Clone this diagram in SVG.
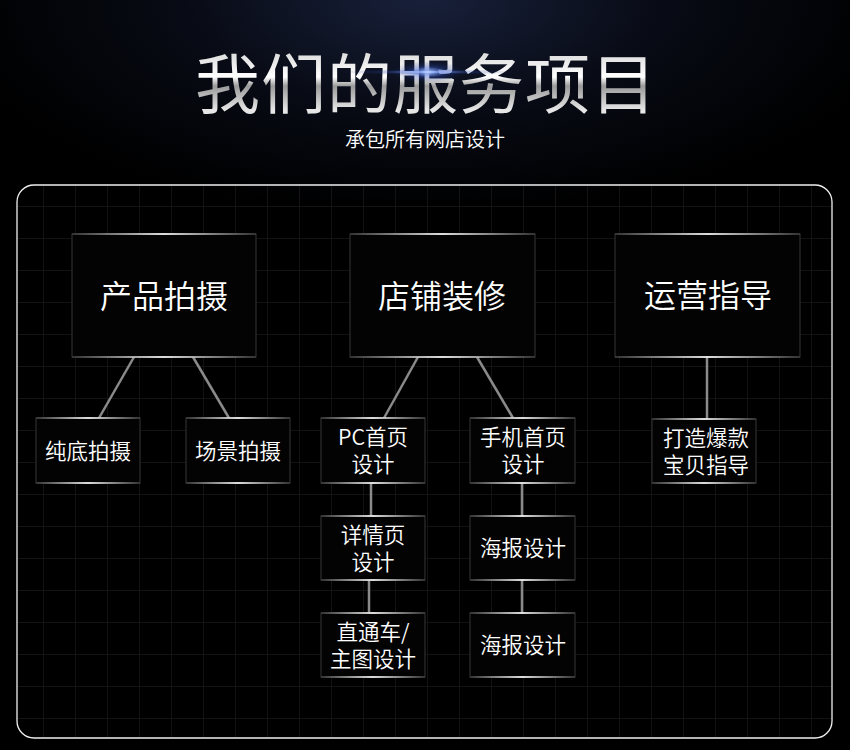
<svg xmlns="http://www.w3.org/2000/svg" width="850" height="750" viewBox="0 0 850 750">
<defs>
<radialGradient id="bgGlow" cx="425" cy="0" r="480" gradientUnits="userSpaceOnUse" gradientTransform="translate(0,0) scale(1,0.45)">
<stop offset="0" stop-color="#18203a"/>
<stop offset="0.5" stop-color="#080b15"/>
<stop offset="1" stop-color="#000000"/>
</radialGradient>
<radialGradient id="flare" cx="0.5" cy="0.5" r="0.5">
<stop offset="0" stop-color="#ffffff" stop-opacity="1"/>
<stop offset="0.15" stop-color="#a0bcff" stop-opacity="0.9"/>
<stop offset="0.5" stop-color="#3050c0" stop-opacity="0.35"/>
<stop offset="1" stop-color="#102060" stop-opacity="0"/>
</radialGradient>
<linearGradient id="silver" x1="0" y1="50" x2="0" y2="110" gradientUnits="userSpaceOnUse">
<stop offset="0" stop-color="#d8d8d8"/>
<stop offset="0.45" stop-color="#ffffff"/>
<stop offset="0.6" stop-color="#9a9a9a"/>
<stop offset="1" stop-color="#e6e6e6"/>
</linearGradient>
<linearGradient id="edge" x1="0" y1="0" x2="1" y2="0">
<stop offset="0" stop-color="#ffffff" stop-opacity="0.1"/>
<stop offset="0.5" stop-color="#ffffff" stop-opacity="0.85"/>
<stop offset="1" stop-color="#ffffff" stop-opacity="0.1"/>
</linearGradient>
<pattern id="grid" x="11" y="14" width="32" height="32" patternUnits="userSpaceOnUse">
<path d="M0 0H32M0 0V32" fill="none" stroke="#131313" stroke-width="2"/>
</pattern>
</defs>
<style>
.box{fill:#030303;stroke:#2e2e2e;stroke-width:1.2}
.edge{fill:url(#edge)}
.big{font-family:"Noto Sans CJK SC","Noto Sans",sans-serif;font-size:32px;font-weight:350;fill:#ffffff;text-anchor:middle}
.small{font-family:"Noto Sans CJK SC","Noto Sans",sans-serif;font-size:21.5px;font-weight:350;fill:#ffffff;text-anchor:middle}
.conn{stroke:#8a8a8a;stroke-width:2.5;fill:none}
</style>
<rect width="850" height="750" fill="#000"/>
<rect width="850" height="200" fill="url(#bgGlow)"/>
<g id="title">
<text x="426" y="108" font-family="Noto Sans CJK SC,sans-serif" font-size="65" font-weight="400" fill="url(#silver)" text-anchor="middle" letter-spacing="1">我们的服务项目</text>
<ellipse cx="428" cy="72" rx="36" ry="11" fill="url(#flare)"/>
<ellipse cx="428" cy="72" rx="90" ry="3" fill="url(#flare)" opacity="0.7"/>
<text x="425" y="147" font-family="Noto Sans CJK SC,sans-serif" font-size="20" font-weight="350" fill="#ffffff" text-anchor="middle">承包所有网店设计</text>
</g>
<g id="panel">
<rect x="17" y="185" width="815" height="553" rx="17" fill="url(#grid)" stroke="#f0f0f0" stroke-width="1.3"/>
</g>
<g id="connectors">
<line class="conn" x1="134" y1="357" x2="99" y2="418"/>
<line class="conn" x1="193" y1="357" x2="229" y2="418"/>
<line class="conn" x1="418" y1="357" x2="384" y2="418"/>
<line class="conn" x1="477" y1="357" x2="513" y2="418"/>
<line class="conn" x1="371" y1="483" x2="371" y2="516"/>
<line class="conn" x1="369" y1="580" x2="369" y2="613"/>
<line class="conn" x1="522" y1="483" x2="522" y2="516"/>
<line class="conn" x1="522" y1="580" x2="522" y2="613"/>
<line class="conn" x1="707" y1="357" x2="707" y2="419"/>
</g>
<g id="n-product">
<rect class="box" x="72" y="234" width="184" height="123"/>
<rect class="edge" x="72" y="233" width="184" height="2"/>
<rect class="edge" x="72" y="356" width="184" height="2"/>
<text class="big" x="164" y="308">产品拍摄</text>
</g>
<g id="n-shop">
<rect class="box" x="350" y="234" width="185" height="123"/>
<rect class="edge" x="350" y="233" width="185" height="2"/>
<rect class="edge" x="350" y="356" width="185" height="2"/>
<text class="big" x="442" y="308">店铺装修</text>
</g>
<g id="n-ops">
<rect class="box" x="615" y="234" width="185" height="123"/>
<rect class="edge" x="615" y="233" width="185" height="2"/>
<rect class="edge" x="615" y="356" width="185" height="2"/>
<text class="big" x="708" y="307">运营指导</text>
</g>
<g id="n-plain">
<rect class="box" x="36" y="418" width="104" height="65"/>
<rect class="edge" x="36" y="417" width="104" height="2"/>
<rect class="edge" x="36" y="482" width="104" height="2"/>
<text class="small" x="88" y="459">纯底拍摄</text>
</g>
<g id="n-scene">
<rect class="box" x="186" y="418" width="104" height="65"/>
<rect class="edge" x="186" y="417" width="104" height="2"/>
<rect class="edge" x="186" y="482" width="104" height="2"/>
<text class="small" x="238" y="459">场景拍摄</text>
</g>
<g id="n-pc">
<rect class="box" x="321" y="418" width="104" height="65"/>
<rect class="edge" x="321" y="417" width="104" height="2"/>
<rect class="edge" x="321" y="482" width="104" height="2"/>
<text class="small" x="373" y="445">PC首页</text>
<text class="small" x="373" y="472">设计</text>
</g>
<g id="n-mobile">
<rect class="box" x="470" y="418" width="105" height="65"/>
<rect class="edge" x="470" y="417" width="105" height="2"/>
<rect class="edge" x="470" y="482" width="105" height="2"/>
<text class="small" x="523" y="445">手机首页</text>
<text class="small" x="523" y="472">设计</text>
</g>
<g id="n-detail">
<rect class="box" x="321" y="516" width="104" height="64"/>
<rect class="edge" x="321" y="515" width="104" height="2"/>
<rect class="edge" x="321" y="579" width="104" height="2"/>
<text class="small" x="373" y="543">详情页</text>
<text class="small" x="373" y="570">设计</text>
</g>
<g id="n-poster1">
<rect class="box" x="470" y="516" width="105" height="64"/>
<rect class="edge" x="470" y="515" width="105" height="2"/>
<rect class="edge" x="470" y="579" width="105" height="2"/>
<text class="small" x="523" y="556">海报设计</text>
</g>
<g id="n-ztc">
<rect class="box" x="321" y="613" width="104" height="64"/>
<rect class="edge" x="321" y="612" width="104" height="2"/>
<rect class="edge" x="321" y="676" width="104" height="2"/>
<text class="small" x="373" y="640">直通车/</text>
<text class="small" x="373" y="667">主图设计</text>
</g>
<g id="n-poster2">
<rect class="box" x="470" y="613" width="105" height="64"/>
<rect class="edge" x="470" y="612" width="105" height="2"/>
<rect class="edge" x="470" y="676" width="105" height="2"/>
<text class="small" x="523" y="653">海报设计</text>
</g>
<g id="n-hot">
<rect class="box" x="652" y="419" width="104" height="64"/>
<rect class="edge" x="652" y="418" width="104" height="2"/>
<rect class="edge" x="652" y="482" width="104" height="2"/>
<text class="small" x="706" y="446">打造爆款</text>
<text class="small" x="706" y="473">宝贝指导</text>
</g>
</svg>
